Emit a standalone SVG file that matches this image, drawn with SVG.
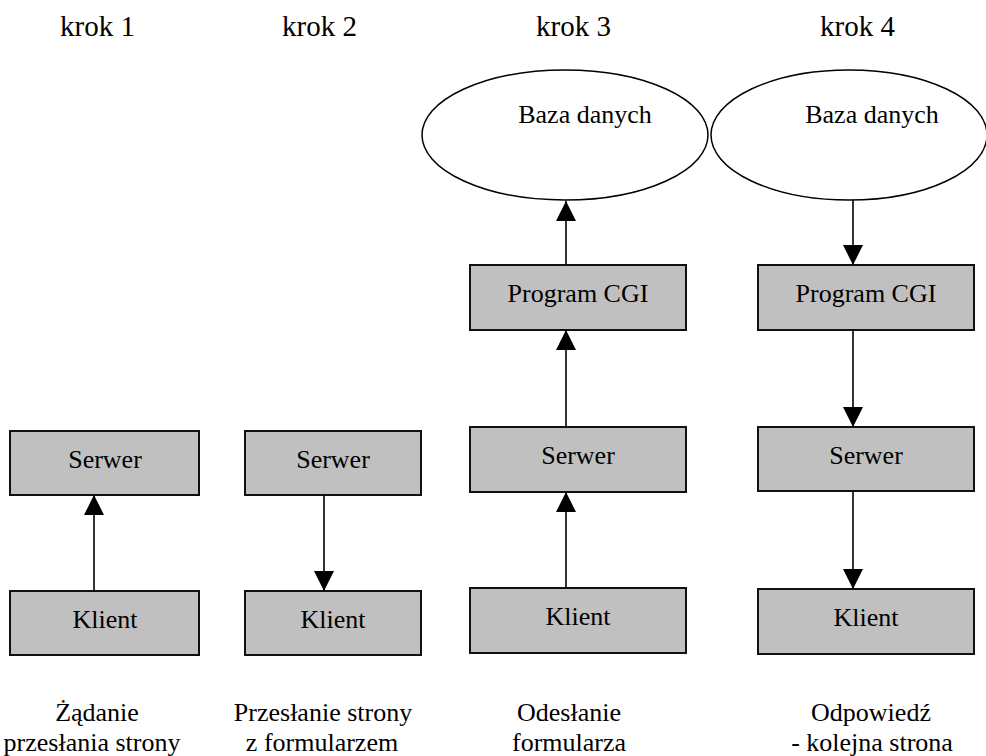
<svg xmlns="http://www.w3.org/2000/svg" width="986" height="756" viewBox="0 0 986 756" font-family="'Liberation Serif', 'Times New Roman', Tinos, 'DejaVu Serif', serif">
<defs>
<style>
text{font-family:'Liberation Serif','Times New Roman',Tinos,'DejaVu Serif',serif;fill:#000}
.lbl{font-size:26px;text-anchor:middle}
.krok{font-size:29px}
.cap{font-size:26px;text-anchor:middle}
.box{fill:#c0c0c0;stroke:#111;stroke-width:2}
.db{fill:#fff;stroke:#000;stroke-width:1.5}
.arr{stroke:#000;stroke-width:1.6;fill:none;marker-end:url(#ah)}
</style>
<marker id="ah" markerUnits="userSpaceOnUse" markerWidth="20" markerHeight="20" refX="20" refY="10" orient="auto" viewBox="0 0 20 20">
<path d="M0,0 L20,10 L0,20 z" fill="#000"/>
</marker>
</defs>
<g id="steps">
<text class="krok" x="60" y="36">krok 1</text>
<text class="krok" x="282" y="36">krok 2</text>
<text class="krok" x="536" y="36">krok 3</text>
<text class="krok" x="820" y="36">krok 4</text>
</g>
<g id="db3"><ellipse class="db" cx="565" cy="135" rx="143" ry="65"/><text class="lbl" x="585" y="123">Baza danych</text></g>
<g id="db4"><ellipse class="db" cx="849" cy="135" rx="138" ry="65"/><text class="lbl" x="872" y="123">Baza danych</text></g>
<g id="serwer1"><rect class="box" x="10" y="431" width="189" height="64"/><text class="lbl" x="105" y="468">Serwer</text></g>
<g id="klient1"><rect class="box" x="10" y="591" width="189" height="64"/><text class="lbl" x="105" y="628">Klient</text></g>
<g id="serwer2"><rect class="box" x="245" y="431" width="176" height="64"/><text class="lbl" x="333" y="468">Serwer</text></g>
<g id="klient2"><rect class="box" x="245" y="591" width="176" height="64"/><text class="lbl" x="333" y="628">Klient</text></g>
<g id="cgi3"><rect class="box" x="470" y="265" width="216" height="65"/><text class="lbl" x="578" y="302">Program CGI</text></g>
<g id="serwer3"><rect class="box" x="470" y="427" width="216" height="65"/><text class="lbl" x="578" y="464">Serwer</text></g>
<g id="klient3"><rect class="box" x="470" y="588" width="216" height="65"/><text class="lbl" x="578" y="625">Klient</text></g>
<g id="cgi4"><rect class="box" x="758" y="265" width="216" height="65"/><text class="lbl" x="866" y="302">Program CGI</text></g>
<g id="serwer4"><rect class="box" x="758" y="427" width="216" height="64"/><text class="lbl" x="866" y="464">Serwer</text></g>
<g id="klient4"><rect class="box" x="758" y="589" width="216" height="65"/><text class="lbl" x="866" y="626">Klient</text></g>
<g id="connectors">
<line class="arr" x1="94" y1="591" x2="94" y2="495"/>
<line class="arr" x1="324" y1="495" x2="324" y2="591"/>
<line class="arr" x1="566" y1="588" x2="566" y2="492"/>
<line class="arr" x1="566" y1="427" x2="566" y2="330"/>
<line class="arr" x1="566" y1="265" x2="566" y2="201"/>
<line class="arr" x1="853" y1="200" x2="853" y2="265"/>
<line class="arr" x1="853" y1="330" x2="853" y2="427"/>
<line class="arr" x1="853" y1="491" x2="853" y2="589"/>
</g>
<g id="captions">
<text class="cap" x="97" y="721">Żądanie</text>
<text class="cap" x="92" y="751">przesłania strony</text>
<text class="cap" x="323" y="721">Przesłanie strony</text>
<text class="cap" x="322" y="751">z formularzem</text>
<text class="cap" x="569" y="721">Odesłanie</text>
<text class="cap" x="569" y="751">formularza</text>
<text class="cap" x="871" y="721">Odpowiedź</text>
<text class="cap" x="872" y="751">- kolejna strona</text>
</g>
</svg>
